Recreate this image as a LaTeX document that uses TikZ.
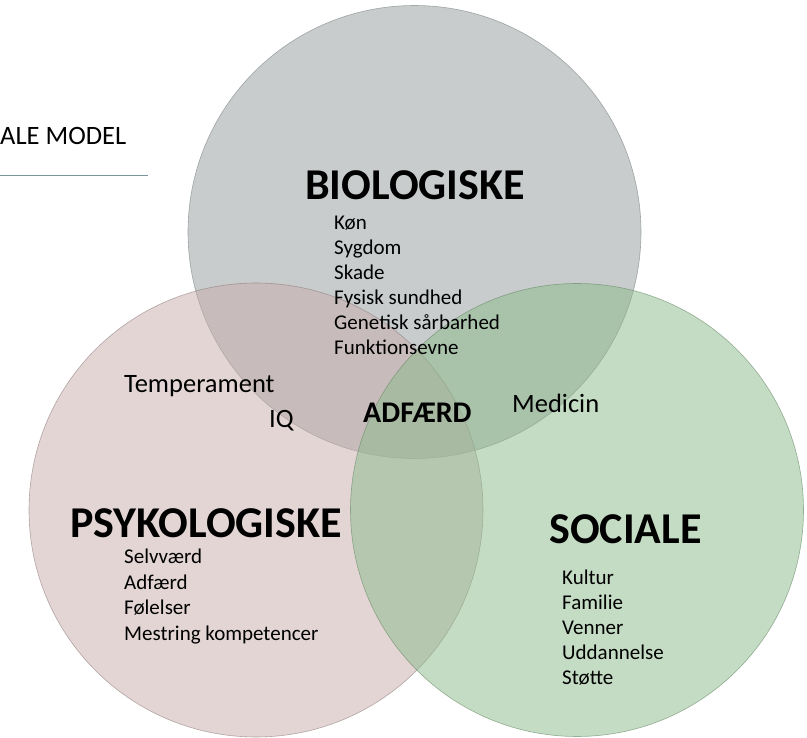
\documentclass[tikz,border=0pt]{standalone}
\usepackage{fontspec}
\setmainfont{Carlito}
\definecolor{biocol}{RGB}{147,155,155}
\definecolor{psycol}{RGB}{199,173,171}
\definecolor{socol}{RGB}{139,187,139}
\definecolor{rulecol}{RGB}{120,150,155}
\begin{document}
\begin{tikzpicture}[x=1pt,y=-1pt,
  circ/.style={fill opacity=0.5,draw opacity=0.6,line width=0.6pt},
  bigtitle/.style={font=\fontsize{44}{48}\selectfont\bfseries,inner sep=0pt,text depth=0pt},
  items/.style={font=\fontsize{21}{25}\selectfont,align=left,anchor=north west,inner sep=0pt},
  mid/.style={font=\fontsize{26.5}{30}\selectfont,inner sep=0pt,anchor=base west}]
\useasboundingbox (0,0) rectangle (807,738);
\fill[white] (0,0) rectangle (807,738);
% circles
\filldraw[circ,fill=biocol,draw=biocol!80!black] (414.5,232) circle (226.5pt);
\filldraw[circ,fill=psycol,draw=psycol!70!black] (256,510) circle (227pt);
\filldraw[circ,fill=socol,draw=socol!70!black] (577,510) circle (226.5pt);
% header fragment
\node[mid] (hdr) at (0,145) {ALE MODEL};
\coordinate (rl) at (0,176);
\coordinate (rr) at (148,176);
\draw[rulecol,line width=1pt] (rl) -- (rr);
% titles
\node[bigtitle] (bio) at (415,185) {BIOLOGISKE};
\node[bigtitle] (psy) at (206,523) {PSYKOLOGISKE};
\node[bigtitle] (soc) at (625.5,529) {SOCIALE};
% lists
\node[items] (bioitems) at (334,216) {Køn\\Sygdom\\Skade\\Fysisk sundhed\\Genetisk sårbarhed\\Funktionsevne};
\node[items,font=\fontsize{21}{25.5}\selectfont] (psyitems) at (124,549) {Selvværd\\Adfærd\\Følelser\\Mestring kompetencer};
\node[items] (socitems) at (562,570) {Kultur\\Familie\\Venner\\Uddannelse\\Støtte};
% middle labels
\node[mid] (temp) at (124,393) {Temperament};
\node[mid] (iq) at (269,428) {IQ};
\node[font=\fontsize{30}{34}\selectfont\bfseries,inner sep=0pt,anchor=base west] (adf) at (363,423) {ADFÆRD};
\node[mid] (med) at (512,413) {Medicin};
\end{tikzpicture}
\end{document}
